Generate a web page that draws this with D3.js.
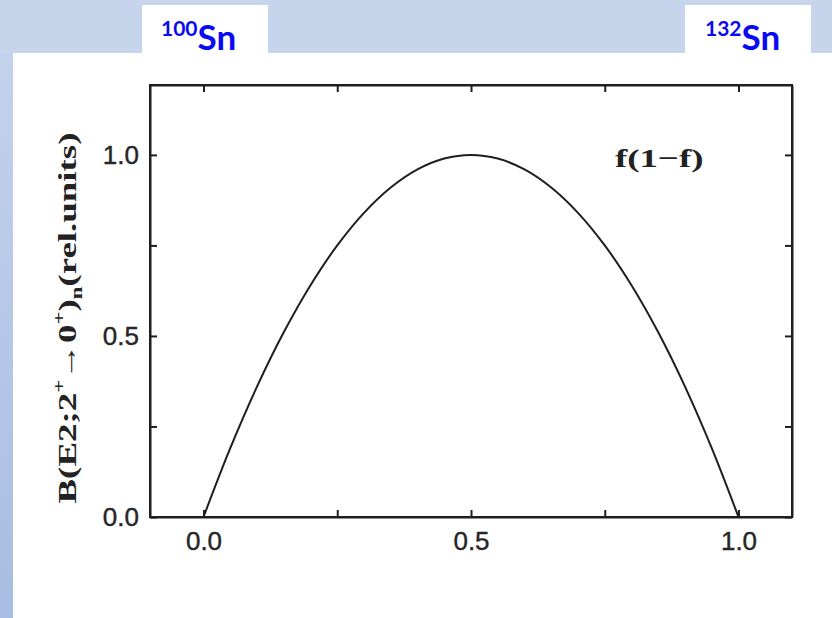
<!DOCTYPE html>
<html>
<head>
<meta charset="utf-8">
<script src="https://cdn.jsdelivr.net/npm/d3@7"></script>
<style>
  html, body { margin: 0; padding: 0; }
  body { width: 832px; height: 618px; overflow: hidden; }
</style>
</head>
<body>
<svg id="chart" width="832" height="618"></svg>
<script>
// Occupation fraction f of the neutron shell (100Sn -> 132Sn)
const fractionF = [0.00, 0.05, 0.10, 0.15, 0.20, 0.25, 0.30, 0.35, 0.40, 0.45, 0.50,
                   0.55, 0.60, 0.65, 0.70, 0.75, 0.80, 0.85, 0.90, 0.95, 1.00];
// B(E2) in relative units along the curve
const bE2 = [0.00, 0.19, 0.36, 0.51, 0.64, 0.75, 0.84, 0.91, 0.96, 0.99, 1.00,
             0.99, 0.96, 0.91, 0.84, 0.75, 0.64, 0.51, 0.36, 0.19, 0.00];

const xTicks = [0, 0.25, 0.5, 0.75, 1.0];
const yTicks = [0, 0.25, 0.5, 0.75, 1.0];
const xTickLabels = ["0.0", "", "0.5", "", "1.0"];
const yTickLabels = ["0.0", "", "0.5", "", "1.0"];
const isotopes = [{mass: "100", sym: "Sn"}, {mass: "132", sym: "Sn"}];

const svg = d3.select("#chart");

// Slide background
const defs = svg.append("defs");
const grad = defs.append("linearGradient").attr("id", "bg").attr("x1", 0).attr("y1", 0).attr("x2", 0).attr("y2", 1);
grad.append("stop").attr("offset", "0%").attr("stop-color", "#c6d4ec");
grad.append("stop").attr("offset", "100%").attr("stop-color", "#a8bde3");
svg.append("rect").attr("width", 832).attr("height", 618).attr("fill", "url(#bg)");
svg.append("rect").attr("x", 0).attr("y", 0).attr("width", 832).attr("height", 53).attr("fill", "#c6d4ec");
svg.append("rect").attr("x", 13).attr("y", 53).attr("width", 819).attr("height", 565).attr("fill", "#ffffff");

// Isotope boxes
const boxX = [142, 685];
isotopes.forEach((iso, i) => {
  const g = svg.append("g").attr("transform", `translate(${boxX[i]},5)`);
  g.append("rect").attr("width", 126).attr("height", 50).attr("fill", "#ffffff");
  const t = g.append("text").attr("x", i === 0 ? 19 : 20).attr("y", 45)
    .attr("font-family", "Lato, 'Open Sans', sans-serif").attr("font-weight", "bold")
    .attr("fill", "#0a0af2");
  t.append("tspan").attr("font-size", 21).attr("dy", -14).text(iso.mass);
  t.append("tspan").attr("font-size", 35).attr("dy", 14).text(iso.sym);
});

// Plot area
const plotL = 150, plotR = 792, plotT = 85, plotB = 517;
const x = d3.scaleLinear().domain([-0.1, 1.1]).range([plotL, plotR]);
const y = d3.scaleLinear().domain([0, 1.193]).range([plotB, plotT]);

const ink = "#1e1e1e";
const tickFont = "'Liberation Sans', Arial, sans-serif";

function styleAxis(g) {
  g.select(".domain").attr("stroke", ink).attr("stroke-width", 2);
  g.selectAll(".tick line").attr("stroke", ink).attr("stroke-width", 2);
  g.selectAll(".tick text").attr("fill", "#262626").attr("font-family", tickFont)
    .attr("font-size", 26).attr("stroke", "#262626").attr("stroke-width", 0.4);
}

svg.append("g").attr("transform", `translate(0,${plotB})`)
  .call(d3.axisBottom(x).tickValues(xTicks).tickSizeInner(-7).tickSizeOuter(0).tickPadding(15)
        .tickFormat((d, i) => xTickLabels[i]))
  .call(styleAxis);
svg.append("g").attr("transform", `translate(0,${plotT})`)
  .call(d3.axisTop(x).tickValues(xTicks).tickSizeInner(-7).tickSizeOuter(0).tickFormat(""))
  .call(styleAxis);
svg.append("g").attr("transform", `translate(${plotL},0)`)
  .call(d3.axisLeft(y).tickValues(yTicks).tickSizeInner(-7).tickSizeOuter(0).tickPadding(11)
        .tickFormat((d, i) => yTickLabels[i]))
  .call(styleAxis);
svg.append("g").attr("transform", `translate(${plotR},0)`)
  .call(d3.axisRight(y).tickValues(yTicks).tickSizeInner(-7).tickSizeOuter(0).tickFormat(""))
  .call(styleAxis);

// Closed frame around the plot area
svg.append("rect").attr("x", plotL).attr("y", plotT).attr("width", plotR - plotL).attr("height", plotB - plotT)
  .attr("fill", "none").attr("stroke", ink).attr("stroke-width", 2);

// Curve
const line = d3.line().x((d, i) => x(fractionF[i])).y(d => y(d)).curve(d3.curveCatmullRom);
svg.append("path").datum(bE2).attr("d", line)
  .attr("fill", "none").attr("stroke", ink).attr("stroke-width", 2);

// Curve label (wide serif lettering)
svg.append("text").attr("transform", "translate(615,167) scale(1.42,1)")
  .attr("font-family", "'Liberation Serif', 'DejaVu Serif', serif").attr("font-weight", "bold")
  .attr("font-size", 26).attr("fill", "#222")
  .text("f(1\u2212f)");

// Y axis title
const yt = svg.append("text")
  .attr("transform", "translate(76,318) rotate(-90) scale(1.42,1)")
  .attr("text-anchor", "middle")
  .attr("font-family", "'Liberation Serif', 'DejaVu Serif', serif").attr("font-weight", "bold")
  .attr("font-size", 26).attr("fill", "#222");
yt.append("tspan").text("B(E2;2");
yt.append("tspan").attr("font-size", 16).attr("dy", -11).text("+");
yt.append("tspan").attr("dy", 11).text("\u21920");
yt.append("tspan").attr("font-size", 16).attr("dy", -11).text("+");
yt.append("tspan").attr("dy", 11).text(")");
yt.append("tspan").attr("font-size", 16).attr("dy", 6).text("n");
yt.append("tspan").attr("dy", -6).text("(rel.units)");
</script>
</body>
</html>
